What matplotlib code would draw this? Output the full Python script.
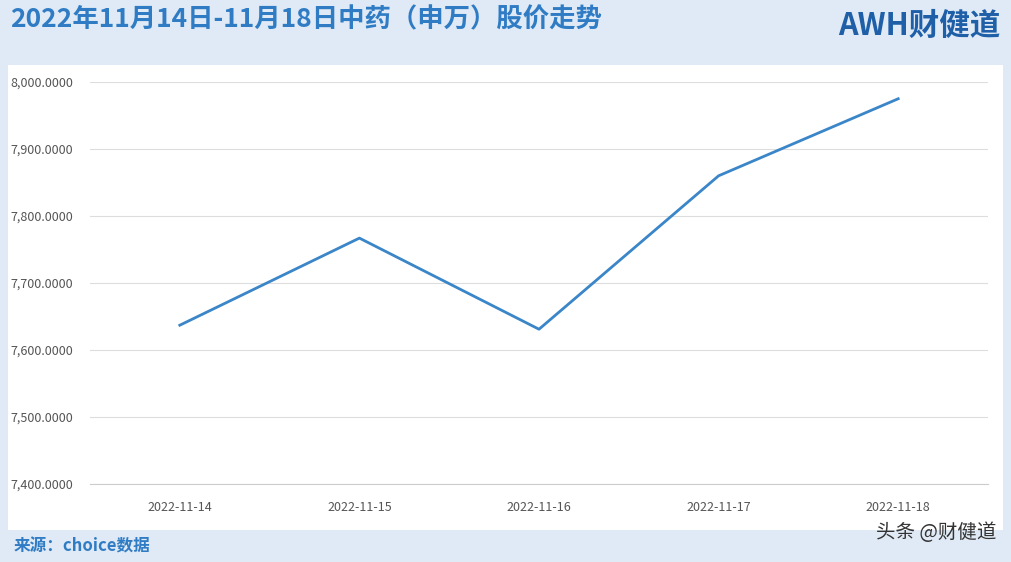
import matplotlib
matplotlib.use("Agg")
import matplotlib.pyplot as plt
from matplotlib.patches import Rectangle

plt.rcParams['font.family'] = ['Noto Sans CJK SC', 'DejaVu Sans']

dates = ["2022-11-14", "2022-11-15", "2022-11-16", "2022-11-17", "2022-11-18"]
prices = [7637, 7767, 7631, 7860, 7975]
yticks = [7400, 7500, 7600, 7700, 7800, 7900, 8000]

W, H = 1012, 562
fig = plt.figure(figsize=(W/100, H/100), dpi=100)
fig.patch.set_facecolor('#dfeaf6')
fig.add_artist(Rectangle((8/W, 32/H), 995/W, 465/H, transform=fig.transFigure,
                         facecolor='white', edgecolor='none', zorder=0))

ax = fig.add_axes([90/W, 1-484/H, 898/W, 402/H])
ax.set_facecolor('none')
x = list(range(len(dates)))
ax.plot(x, prices, color='#3a86c8', lw=2)
ax.set_xlim(-0.5, 4.5)
ax.set_ylim(7400, 8000)
ax.set_yticks(yticks)
ax.set_yticklabels([f"{v:,.4f}" for v in yticks], fontsize=9, color='#555555')
ax.set_xticks(x)
ax.set_xticklabels(dates, fontsize=9, color='#555555')
ax.grid(axis='y', color='#dddddd', lw=0.8)
ax.tick_params(length=0, pad=12)
for s in ax.spines.values():
    s.set_visible(False)
ax.spines['bottom'].set_visible(True)
ax.spines['bottom'].set_color('#cccccc')

fig.text(10/W, 1-20/H, "2022年11月14日-11月18日中药（申万）股价走势", fontsize=19,
         fontweight='bold', color='#2f7cc4', va='center', ha='left')
fig.text(1000/W, 1-26/H, "AWH财健道", fontsize=22, fontweight='bold', style='italic',
         color='#1f5fa8', va='center', ha='right')
fig.text(14/W, 1-546/H, "来源：choice数据", fontsize=12, fontweight='bold',
         color='#2f7cc4', va='center', ha='left')
fig.text(996/W, 1-533/H, "头条 @财健道", fontsize=14, color='#333333', va='center', ha='right')

fig.savefig("out.png", dpi=100, facecolor=fig.get_facecolor())
